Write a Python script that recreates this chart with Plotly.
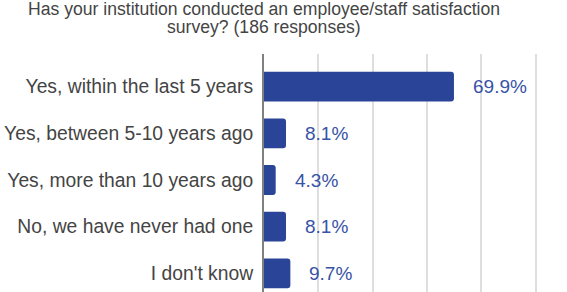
import plotly.graph_objects as go

title_lines = ["Has your institution conducted an employee/staff satisfaction",
               "survey? (186 responses)"]
categories = ["Yes, within the last 5 years", "Yes, between 5-10 years ago",
              "Yes, more than 10 years ago", "No, we have never had one", "I don't know"]
values = [69.9, 8.1, 4.3, 8.1, 9.7]
value_labels = ["69.9%", "8.1%", "4.3%", "8.1%", "9.7%"]

W, H = 567, 292
ML, MT, MB, MR = 264, 54, 0, 0
FONT = "Liberation Sans, Arial, sans-serif"
BAR = "#2A4598"
LBL = "#3853A6"

fig = go.Figure(go.Bar(
    x=values, y=categories, orientation="h",
    marker=dict(color=BAR, line=dict(width=0)),
    width=0.64, hoverinfo="skip",
))

for c, v, t in zip(categories, values, value_labels):
    fig.add_annotation(x=v, y=c, xref="x", yref="y", text=t, showarrow=False,
                       xanchor="left", yanchor="middle", xshift=17,
                       font=dict(family=FONT, size=19, color=LBL))

pw = W - ML - MR
ph = H - MT - MB
def px(p):
    return (p - ML) / pw
def py(p):
    return (H - MB - p) / ph

title_centers = [9.0, 26.7]
for line, yc in zip(title_lines, title_centers):
    fig.add_annotation(x=px(263.5), y=py(yc), xref="paper", yref="paper",
                       text=line, showarrow=False, xanchor="center", yanchor="middle",
                       borderpad=0,
                       font=dict(family=FONT, size=17.6, color="#444444"))

fig.update_layout(
    width=W, height=H,
    margin=dict(l=ML, r=MR, t=MT, b=MB, pad=0),
    paper_bgcolor="white", plot_bgcolor="white",
    showlegend=False, barcornerradius=3,
    font=dict(family=FONT),
)
fig.update_xaxes(range=[0, 111.5], dtick=20, tick0=0, showticklabels=False,
                 showgrid=True, gridcolor="#dedede", gridwidth=2, zeroline=False,
                 showline=False, ticks="")
fig.update_yaxes(range=[4.40, -0.70], categoryorder="array", categoryarray=categories,
                 showline=True, linecolor="#808080", linewidth=2, showgrid=False,
                 ticks="", ticklabelstandoff=5,
                 tickfont=dict(family=FONT, size=19.3, color="#444444"))

fig.write_html("out.html", config={"displayModeBar": False})
